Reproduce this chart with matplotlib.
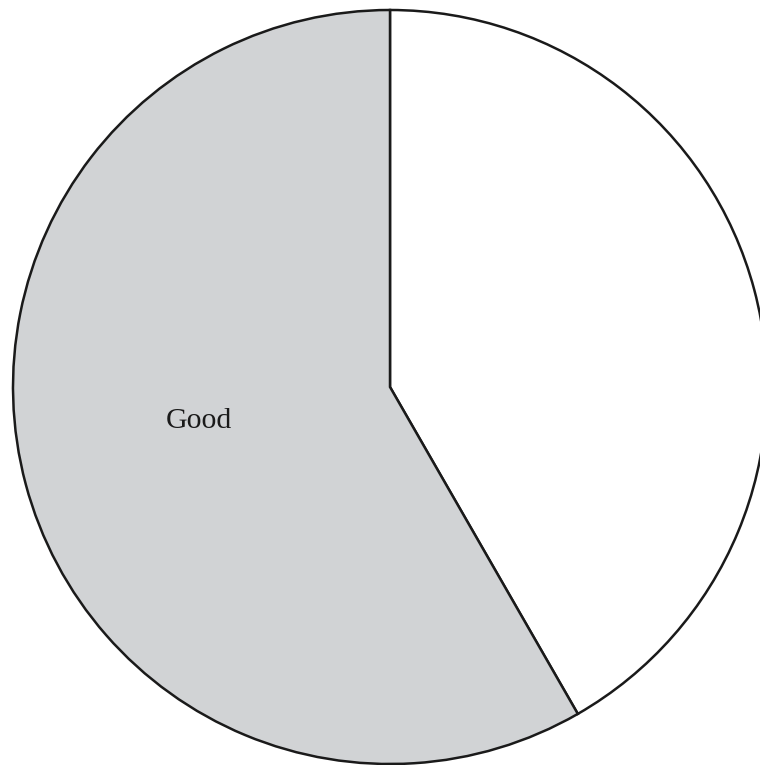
import matplotlib.pyplot as plt

# Slice shares (percent), clockwise from 12 o'clock
labels = ["", "Good"]
shares = [41.7, 58.3]
colors = ["white", "#d1d3d5"]

fig = plt.figure(figsize=(7.6, 7.65), dpi=100)
ax = fig.add_axes([13 / 760, 1 / 765, 754 / 760, 754 / 765])

wedges, texts = ax.pie(shares, labels=labels, colors=colors, startangle=90,
                       counterclock=False, labeldistance=0.52,
                       wedgeprops=dict(edgecolor="#1a1a1a", linewidth=1.8),
                       textprops=dict(family="Liberation Serif", fontsize=21.5,
                                      color="#1a1a1a"))
for w in wedges:
    w.set_clip_on(False)

# label sits a bit higher than the slice midpoint
texts[1].set_position((-0.507, -0.09))
texts[1].set_ha("center")
texts[1].set_va("center")

ax.set_xlim(-1, 1)
ax.set_ylim(-1, 1)
ax.set_aspect("equal")
ax.axis("off")

fig.savefig("out.png", dpi=100)
